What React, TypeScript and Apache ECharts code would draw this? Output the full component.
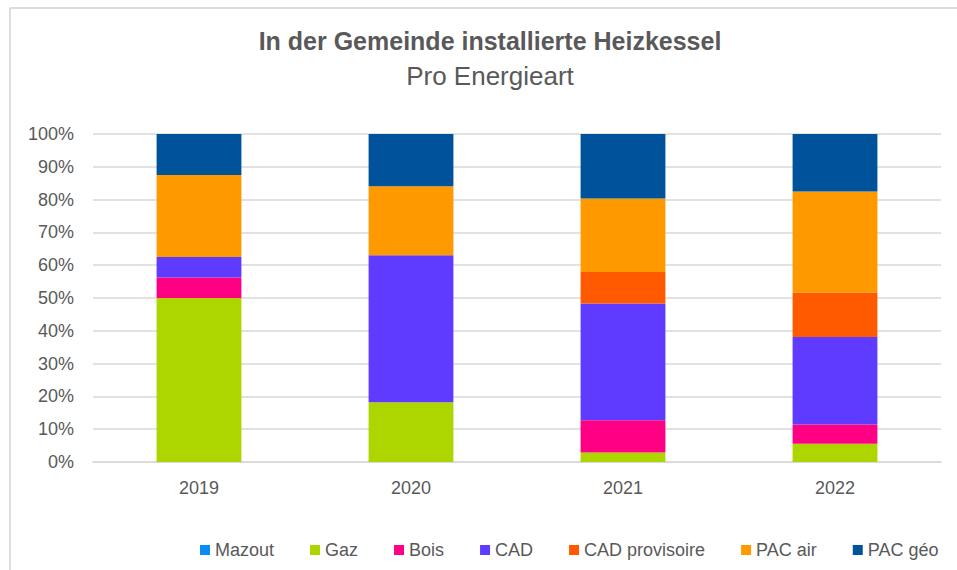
import React, { useEffect, useRef } from "react";
import * as echarts from "echarts";

const years = ["2019", "2020", "2021", "2022"];
const mazout = [0, 0, 0, 0];
const gaz = [50, 18.2, 2.9, 5.6];
const bois = [6.25, 0, 9.8, 5.8];
const cad = [6.25, 44.8, 35.6, 26.7];
const cadProvisoire = [0, 0, 9.6, 13.6];
const pacAir = [25, 21.1, 22.4, 30.8];
const pacGeo = [12.5, 15.9, 19.7, 17.5];

const seriesDefs = [
  { name: "Mazout", data: mazout, color: "#0A8CF5" },
  { name: "Gaz", data: gaz, color: "#ADD500" },
  { name: "Bois", data: bois, color: "#FF0084" },
  { name: "CAD", data: cad, color: "#5F3BFF" },
  { name: "CAD provisoire", data: cadProvisoire, color: "#FF5A00" },
  { name: "PAC air", data: pacAir, color: "#FF9900" },
  { name: "PAC géo", data: pacGeo, color: "#00529B" },
];

const FONT = "'Liberation Sans', Arial, sans-serif";
const GREY = "#595959";

export default function App() {
  const ref = useRef<HTMLDivElement>(null);
  useEffect(() => {
    if (!ref.current) return;
    const chart = echarts.init(ref.current, null, { renderer: "svg" });
    chart.setOption({
      animation: false,
      backgroundColor: "#ffffff",
      textStyle: { fontFamily: FONT },
      title: [
        {
          text: "In der Gemeinde installierte Heizkessel",
          left: 490,
          top: 28,
          textAlign: "center",
          padding: 0,
          textStyle: { fontFamily: FONT, fontSize: 25, fontWeight: "bold", color: GREY },
        },
        {
          text: "Pro Energieart",
          left: 490,
          top: 63,
          textAlign: "center",
          padding: 0,
          textStyle: { fontFamily: FONT, fontSize: 26, fontWeight: "normal", color: GREY },
        },
      ],
      graphic: [
        {
          type: "line",
          shape: { x1: 10, y1: 8, x2: 957, y2: 8 },
          style: { stroke: "#dcdcdc", lineWidth: 2 },
          silent: true,
        },
        {
          type: "line",
          shape: { x1: 10, y1: 8, x2: 10, y2: 570 },
          style: { stroke: "#dcdcdc", lineWidth: 2 },
          silent: true,
        },
      ],
      legend: {
        left: 200,
        top: 541,
        width: 757,
        padding: 0,
        itemGap: 36,
        itemWidth: 10,
        itemHeight: 10,
        icon: "rect",
        data: seriesDefs.map((s) => s.name),
        textStyle: { fontFamily: FONT, fontSize: 18, color: GREY },
      },
      grid: { left: 93, right: 16, top: 134, bottom: 108, containLabel: false },
      xAxis: {
        type: "category",
        data: years,
        axisLine: { lineStyle: { color: "#d9d9d9", width: 1.5 } },
        axisTick: { show: false },
        axisLabel: { color: GREY, fontSize: 18, fontFamily: FONT, margin: 17 },
      },
      yAxis: {
        type: "value",
        min: 0,
        max: 100,
        interval: 10,
        axisLine: { show: false },
        axisTick: { show: false },
        splitLine: { lineStyle: { color: "#d9d9d9", width: 1.5 } },
        axisLabel: { color: GREY, fontSize: 18, fontFamily: FONT, margin: 19, formatter: "{value}%" },
      },
      series: seriesDefs.map((s) => ({
        name: s.name,
        type: "bar",
        stack: "total",
        barWidth: "40%",
        data: s.data,
        itemStyle: { color: s.color },
      })),
    });
    return () => chart.dispose();
  }, []);
  return (
    <div
      ref={ref}
      style={{ position: "absolute", left: 0, top: 0, width: 957, height: 570 }}
    />
  );
}
